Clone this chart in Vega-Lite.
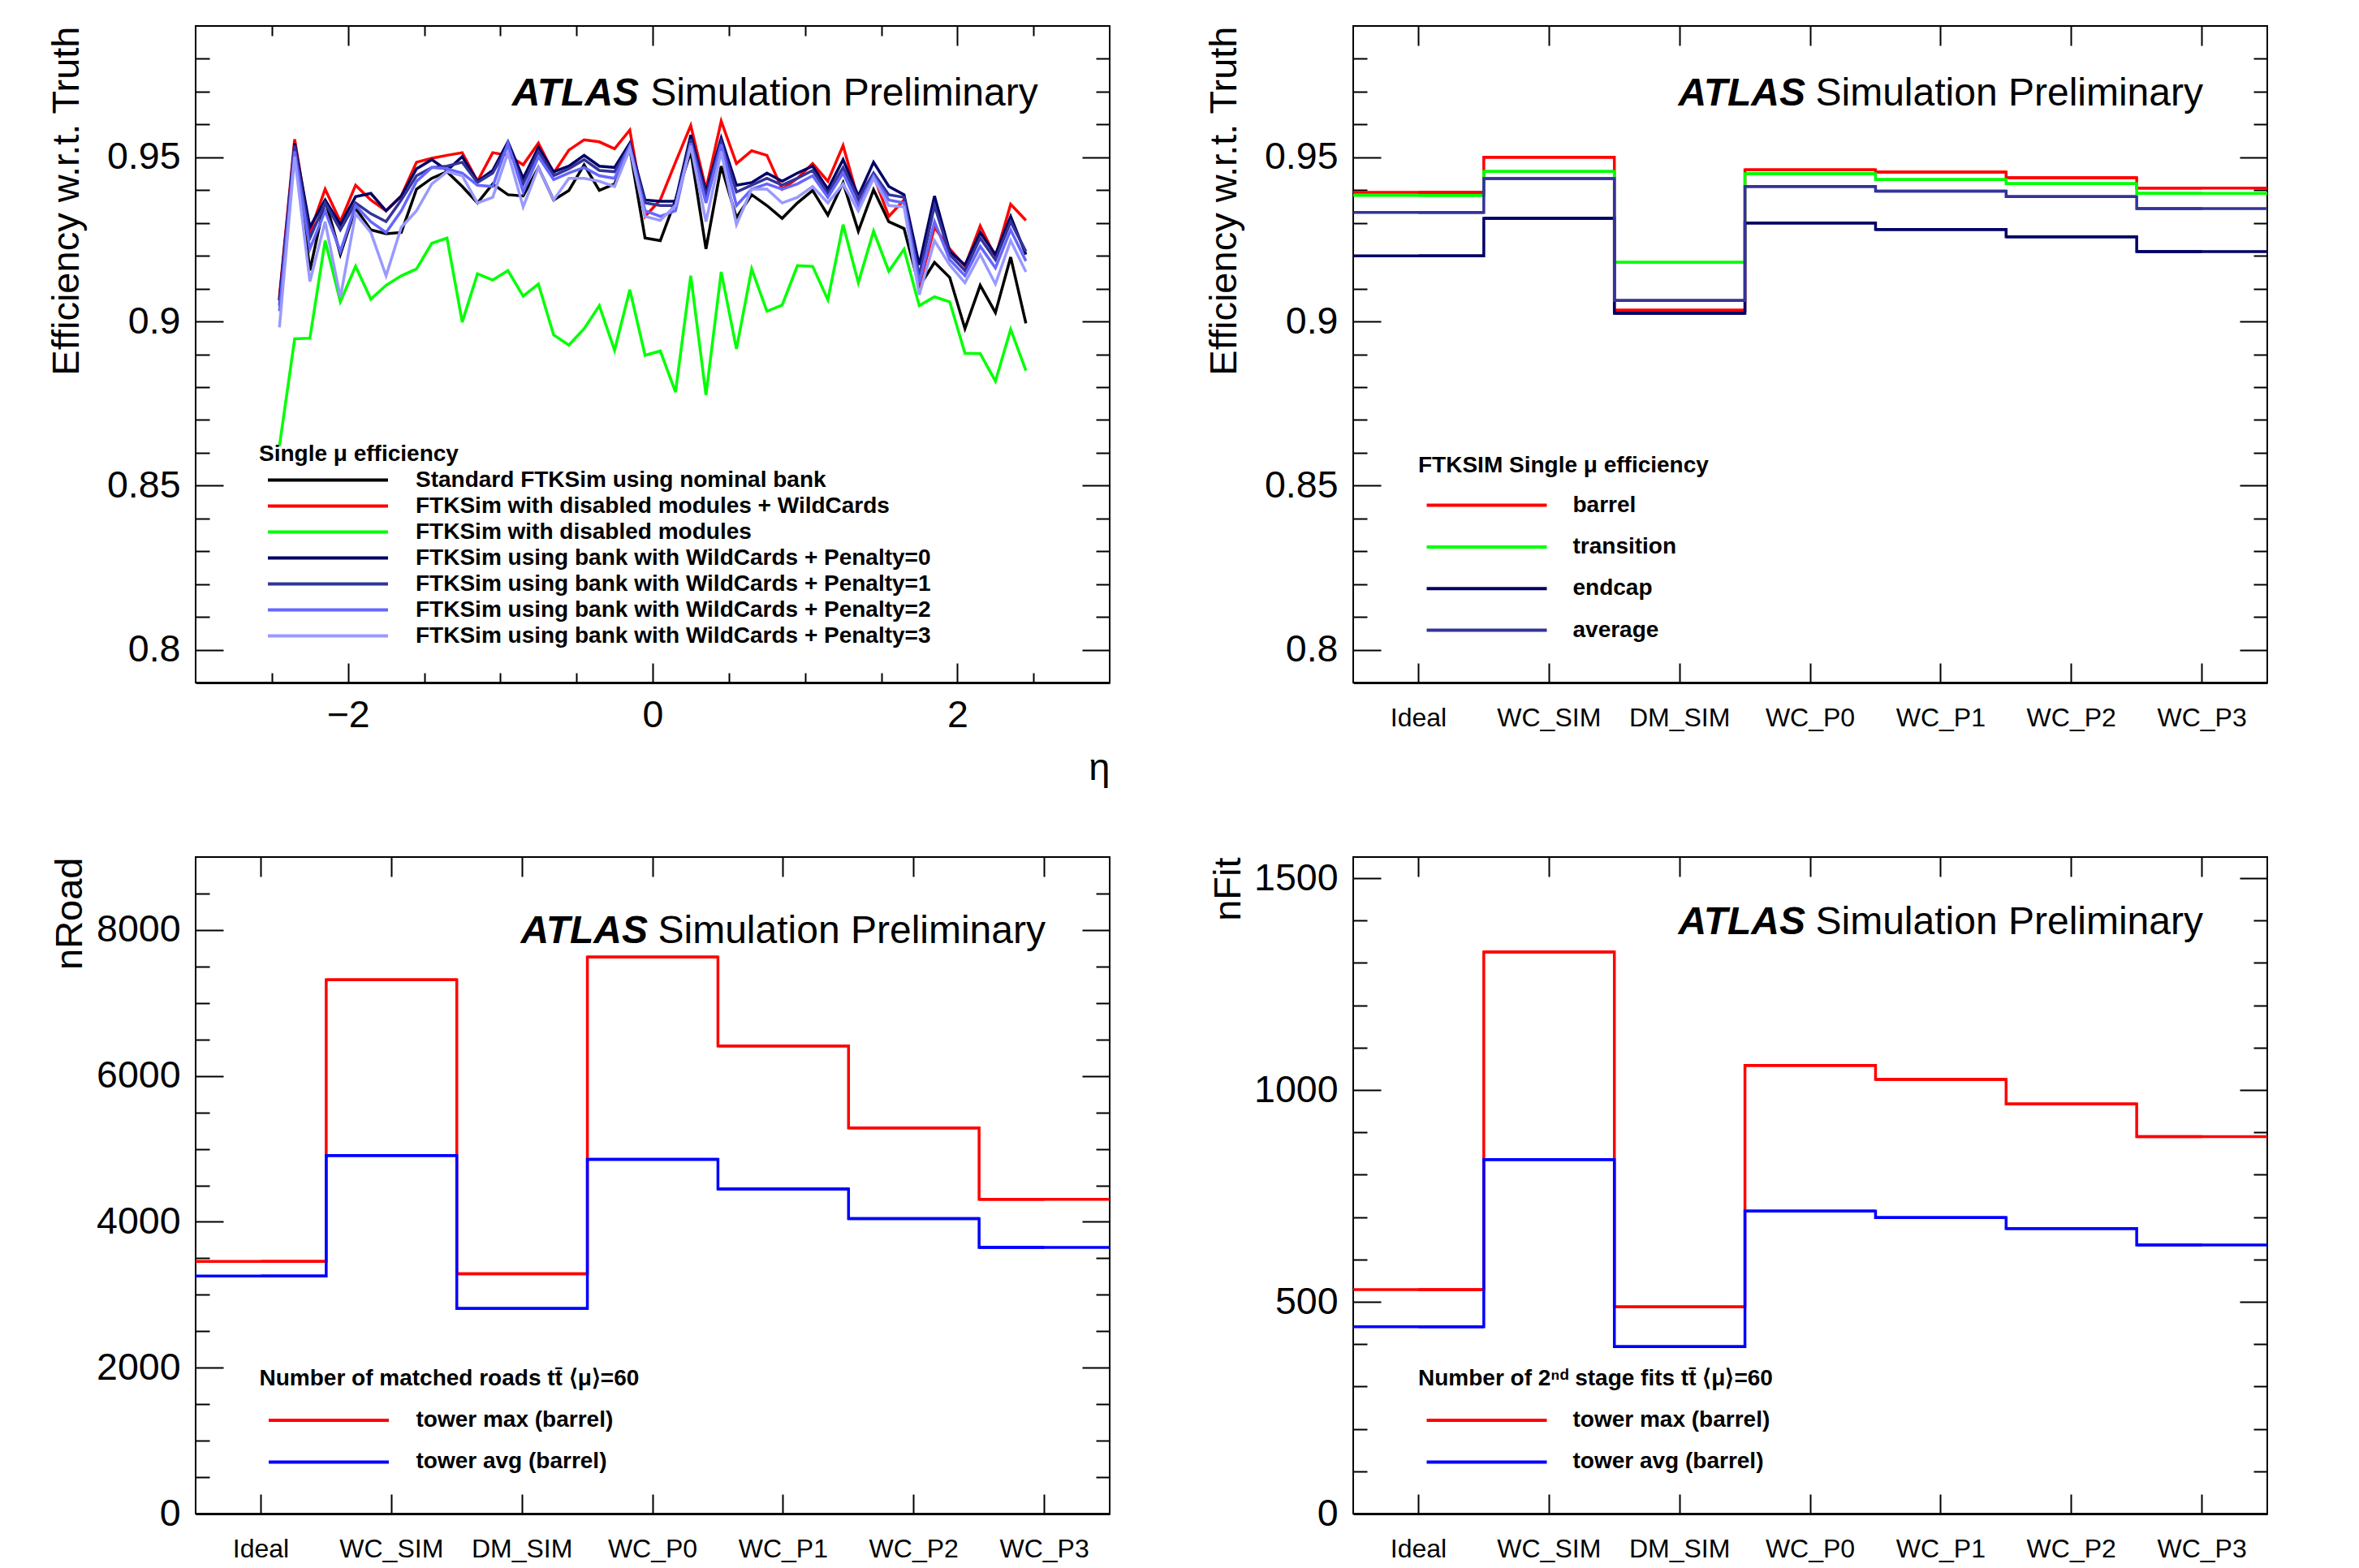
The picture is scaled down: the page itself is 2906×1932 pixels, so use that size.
{
"$schema":"https://vega.github.io/schema/vega-lite/v6.json",
"autosize":{"type":"none"},
"padding":{"left":241,"top":32,"right":2665,"bottom":1900},
"background":"white",
"columns":2,
"spacing":{"row":215,"column":300},
"bounds":"flush",
"resolve":{"scale":{"color":"independent"}},
"config":{
 "view":{"stroke":"#000000","strokeWidth":2},
 "axis":{"grid":false,"domain":false,"ticks":true,"tickColor":"#000000","tickWidth":2,"labelFont":"Liberation Sans","labelFontSize":46.5,"labelColor":"#000000","labelOverlap":false,"labelFlush":false,"labelBound":false,"titleFont":"Liberation Sans","titleFontSize":47,"titleFontWeight":"normal","titleColor":"#000000","domainColor":"#000000","domainWidth":3,"labelAngle":0},
 "legend":{"orient":"none","titleFont":"Liberation Sans","titleFontSize":28,"titleFontWeight":"bold","titleColor":"#000000","labelFont":"Liberation Sans","labelFontSize":28,"labelFontWeight":"bold","labelColor":"#000000","labelLimit":2000,"titleLimit":2000,"padding":0,"symbolType":"M-14.8,0H14.8","symbolSize":100,"symbolStrokeWidth":4,"symbolFillColor":"transparent"},
 "text":{"font":"Liberation Sans","fontSize":48,"baseline":"alphabetic","color":"#000000"}
},
"datasets":{
"eff":[
{"eta":-2.45,"eff":0.9064,"s":"Standard FTKSim using nominal bank"},{"eta":-2.35,"eff":0.9535,"s":"Standard FTKSim using nominal bank"},{"eta":-2.25,"eff":0.9155,"s":"Standard FTKSim using nominal bank"},{"eta":-2.15,"eff":0.937,"s":"Standard FTKSim using nominal bank"},{"eta":-2.05,"eff":0.9204,"s":"Standard FTKSim using nominal bank"},{"eta":-1.95,"eff":0.9345,"s":"Standard FTKSim using nominal bank"},{"eta":-1.85,"eff":0.9279,"s":"Standard FTKSim using nominal bank"},{"eta":-1.75,"eff":0.9267,"s":"Standard FTKSim using nominal bank"},{"eta":-1.65,"eff":0.9271,"s":"Standard FTKSim using nominal bank"},{"eta":-1.55,"eff":0.9403,"s":"Standard FTKSim using nominal bank"},
{"eta":-1.45,"eff":0.9436,"s":"Standard FTKSim using nominal bank"},{"eta":-1.35,"eff":0.9456,"s":"Standard FTKSim using nominal bank"},{"eta":-1.25,"eff":0.9411,"s":"Standard FTKSim using nominal bank"},{"eta":-1.15,"eff":0.9361,"s":"Standard FTKSim using nominal bank"},{"eta":-1.05,"eff":0.9419,"s":"Standard FTKSim using nominal bank"},{"eta":-0.95,"eff":0.9386,"s":"Standard FTKSim using nominal bank"},{"eta":-0.85,"eff":0.9382,"s":"Standard FTKSim using nominal bank"},{"eta":-0.75,"eff":0.9469,"s":"Standard FTKSim using nominal bank"},{"eta":-0.65,"eff":0.937,"s":"Standard FTKSim using nominal bank"},{"eta":-0.55,"eff":0.9399,"s":"Standard FTKSim using nominal bank"},
{"eta":-0.45,"eff":0.9477,"s":"Standard FTKSim using nominal bank"},{"eta":-0.35,"eff":0.9399,"s":"Standard FTKSim using nominal bank"},{"eta":-0.25,"eff":0.9419,"s":"Standard FTKSim using nominal bank"},{"eta":-0.15,"eff":0.9526,"s":"Standard FTKSim using nominal bank"},{"eta":-0.05,"eff":0.9254,"s":"Standard FTKSim using nominal bank"},{"eta":0.05,"eff":0.9246,"s":"Standard FTKSim using nominal bank"},{"eta":0.15,"eff":0.937,"s":"Standard FTKSim using nominal bank"},{"eta":0.25,"eff":0.9518,"s":"Standard FTKSim using nominal bank"},{"eta":0.35,"eff":0.9221,"s":"Standard FTKSim using nominal bank"},{"eta":0.45,"eff":0.9473,"s":"Standard FTKSim using nominal bank"},
{"eta":0.55,"eff":0.9316,"s":"Standard FTKSim using nominal bank"},{"eta":0.65,"eff":0.9386,"s":"Standard FTKSim using nominal bank"},{"eta":0.75,"eff":0.9353,"s":"Standard FTKSim using nominal bank"},{"eta":0.85,"eff":0.9314,"s":"Standard FTKSim using nominal bank"},{"eta":0.95,"eff":0.9361,"s":"Standard FTKSim using nominal bank"},{"eta":1.05,"eff":0.9399,"s":"Standard FTKSim using nominal bank"},{"eta":1.15,"eff":0.9324,"s":"Standard FTKSim using nominal bank"},{"eta":1.25,"eff":0.9423,"s":"Standard FTKSim using nominal bank"},{"eta":1.35,"eff":0.9275,"s":"Standard FTKSim using nominal bank"},{"eta":1.45,"eff":0.9401,"s":"Standard FTKSim using nominal bank"},
{"eta":1.55,"eff":0.9304,"s":"Standard FTKSim using nominal bank"},{"eta":1.65,"eff":0.9283,"s":"Standard FTKSim using nominal bank"},{"eta":1.75,"eff":0.9106,"s":"Standard FTKSim using nominal bank"},{"eta":1.85,"eff":0.918,"s":"Standard FTKSim using nominal bank"},{"eta":1.95,"eff":0.9134,"s":"Standard FTKSim using nominal bank"},{"eta":2.05,"eff":0.8978,"s":"Standard FTKSim using nominal bank"},{"eta":2.15,"eff":0.911,"s":"Standard FTKSim using nominal bank"},{"eta":2.25,"eff":0.9027,"s":"Standard FTKSim using nominal bank"},{"eta":2.35,"eff":0.9196,"s":"Standard FTKSim using nominal bank"},{"eta":2.45,"eff":0.8994,"s":"Standard FTKSim using nominal bank"},
{"eta":-2.45,"eff":0.9073,"s":"FTKSim with disabled modules + WildCards"},{"eta":-2.35,"eff":0.9555,"s":"FTKSim with disabled modules + WildCards"},{"eta":-2.25,"eff":0.9271,"s":"FTKSim with disabled modules + WildCards"},{"eta":-2.15,"eff":0.9403,"s":"FTKSim with disabled modules + WildCards"},{"eta":-2.05,"eff":0.9304,"s":"FTKSim with disabled modules + WildCards"},{"eta":-1.95,"eff":0.9415,"s":"FTKSim with disabled modules + WildCards"},{"eta":-1.85,"eff":0.937,"s":"FTKSim with disabled modules + WildCards"},{"eta":-1.75,"eff":0.9337,"s":"FTKSim with disabled modules + WildCards"},{"eta":-1.65,"eff":0.9382,"s":"FTKSim with disabled modules + WildCards"},{"eta":-1.55,"eff":0.9485,"s":"FTKSim with disabled modules + WildCards"},
{"eta":-1.45,"eff":0.9497,"s":"FTKSim with disabled modules + WildCards"},{"eta":-1.35,"eff":0.9506,"s":"FTKSim with disabled modules + WildCards"},{"eta":-1.25,"eff":0.9514,"s":"FTKSim with disabled modules + WildCards"},{"eta":-1.15,"eff":0.9427,"s":"FTKSim with disabled modules + WildCards"},{"eta":-1.05,"eff":0.9514,"s":"FTKSim with disabled modules + WildCards"},{"eta":-0.95,"eff":0.9506,"s":"FTKSim with disabled modules + WildCards"},{"eta":-0.85,"eff":0.9477,"s":"FTKSim with disabled modules + WildCards"},{"eta":-0.75,"eff":0.9543,"s":"FTKSim with disabled modules + WildCards"},{"eta":-0.65,"eff":0.9452,"s":"FTKSim with disabled modules + WildCards"},{"eta":-0.55,"eff":0.9522,"s":"FTKSim with disabled modules + WildCards"},
{"eta":-0.45,"eff":0.9553,"s":"FTKSim with disabled modules + WildCards"},{"eta":-0.35,"eff":0.9547,"s":"FTKSim with disabled modules + WildCards"},{"eta":-0.25,"eff":0.9526,"s":"FTKSim with disabled modules + WildCards"},{"eta":-0.15,"eff":0.9583,"s":"FTKSim with disabled modules + WildCards"},{"eta":-0.05,"eff":0.932,"s":"FTKSim with disabled modules + WildCards"},{"eta":0.05,"eff":0.937,"s":"FTKSim with disabled modules + WildCards"},{"eta":0.15,"eff":0.9485,"s":"FTKSim with disabled modules + WildCards"},{"eta":0.25,"eff":0.9597,"s":"FTKSim with disabled modules + WildCards"},{"eta":0.35,"eff":0.9403,"s":"FTKSim with disabled modules + WildCards"},{"eta":0.45,"eff":0.961,"s":"FTKSim with disabled modules + WildCards"},
{"eta":0.55,"eff":0.9481,"s":"FTKSim with disabled modules + WildCards"},{"eta":0.65,"eff":0.952,"s":"FTKSim with disabled modules + WildCards"},{"eta":0.75,"eff":0.9506,"s":"FTKSim with disabled modules + WildCards"},{"eta":0.85,"eff":0.9403,"s":"FTKSim with disabled modules + WildCards"},{"eta":0.95,"eff":0.9436,"s":"FTKSim with disabled modules + WildCards"},{"eta":1.05,"eff":0.9481,"s":"FTKSim with disabled modules + WildCards"},{"eta":1.15,"eff":0.9427,"s":"FTKSim with disabled modules + WildCards"},{"eta":1.25,"eff":0.9536,"s":"FTKSim with disabled modules + WildCards"},{"eta":1.35,"eff":0.937,"s":"FTKSim with disabled modules + WildCards"},{"eta":1.45,"eff":0.9444,"s":"FTKSim with disabled modules + WildCards"},
{"eta":1.55,"eff":0.932,"s":"FTKSim with disabled modules + WildCards"},{"eta":1.65,"eff":0.937,"s":"FTKSim with disabled modules + WildCards"},{"eta":1.75,"eff":0.9106,"s":"FTKSim with disabled modules + WildCards"},{"eta":1.85,"eff":0.9287,"s":"FTKSim with disabled modules + WildCards"},{"eta":1.95,"eff":0.9221,"s":"FTKSim with disabled modules + WildCards"},{"eta":2.05,"eff":0.9168,"s":"FTKSim with disabled modules + WildCards"},{"eta":2.15,"eff":0.9291,"s":"FTKSim with disabled modules + WildCards"},{"eta":2.25,"eff":0.9196,"s":"FTKSim with disabled modules + WildCards"},{"eta":2.35,"eff":0.9357,"s":"FTKSim with disabled modules + WildCards"},{"eta":2.45,"eff":0.9308,"s":"FTKSim with disabled modules + WildCards"},
{"eta":-2.45,"eff":0.862,"s":"FTKSim with disabled modules"},{"eta":-2.35,"eff":0.8947,"s":"FTKSim with disabled modules"},{"eta":-2.25,"eff":0.8949,"s":"FTKSim with disabled modules"},{"eta":-2.15,"eff":0.9246,"s":"FTKSim with disabled modules"},{"eta":-2.05,"eff":0.906,"s":"FTKSim with disabled modules"},{"eta":-1.95,"eff":0.9168,"s":"FTKSim with disabled modules"},{"eta":-1.85,"eff":0.9068,"s":"FTKSim with disabled modules"},{"eta":-1.75,"eff":0.911,"s":"FTKSim with disabled modules"},{"eta":-1.65,"eff":0.9139,"s":"FTKSim with disabled modules"},{"eta":-1.55,"eff":0.916,"s":"FTKSim with disabled modules"},
{"eta":-1.45,"eff":0.9238,"s":"FTKSim with disabled modules"},{"eta":-1.35,"eff":0.9254,"s":"FTKSim with disabled modules"},{"eta":-1.25,"eff":0.8998,"s":"FTKSim with disabled modules"},{"eta":-1.15,"eff":0.9145,"s":"FTKSim with disabled modules"},{"eta":-1.05,"eff":0.9126,"s":"FTKSim with disabled modules"},{"eta":-0.95,"eff":0.9155,"s":"FTKSim with disabled modules"},{"eta":-0.85,"eff":0.9077,"s":"FTKSim with disabled modules"},{"eta":-0.75,"eff":0.9114,"s":"FTKSim with disabled modules"},{"eta":-0.65,"eff":0.8959,"s":"FTKSim with disabled modules"},{"eta":-0.55,"eff":0.8928,"s":"FTKSim with disabled modules"},
{"eta":-0.45,"eff":0.8978,"s":"FTKSim with disabled modules"},{"eta":-0.35,"eff":0.9048,"s":"FTKSim with disabled modules"},{"eta":-0.25,"eff":0.8912,"s":"FTKSim with disabled modules"},{"eta":-0.15,"eff":0.9097,"s":"FTKSim with disabled modules"},{"eta":-0.05,"eff":0.8897,"s":"FTKSim with disabled modules"},{"eta":0.05,"eff":0.891,"s":"FTKSim with disabled modules"},{"eta":0.15,"eff":0.8785,"s":"FTKSim with disabled modules"},{"eta":0.25,"eff":0.9139,"s":"FTKSim with disabled modules"},{"eta":0.35,"eff":0.8776,"s":"FTKSim with disabled modules"},{"eta":0.45,"eff":0.9151,"s":"FTKSim with disabled modules"},
{"eta":0.55,"eff":0.8916,"s":"FTKSim with disabled modules"},{"eta":0.65,"eff":0.916,"s":"FTKSim with disabled modules"},{"eta":0.75,"eff":0.9031,"s":"FTKSim with disabled modules"},{"eta":0.85,"eff":0.905,"s":"FTKSim with disabled modules"},{"eta":0.95,"eff":0.917,"s":"FTKSim with disabled modules"},{"eta":1.05,"eff":0.9168,"s":"FTKSim with disabled modules"},{"eta":1.15,"eff":0.9066,"s":"FTKSim with disabled modules"},{"eta":1.25,"eff":0.9295,"s":"FTKSim with disabled modules"},{"eta":1.35,"eff":0.9118,"s":"FTKSim with disabled modules"},{"eta":1.45,"eff":0.9275,"s":"FTKSim with disabled modules"},
{"eta":1.55,"eff":0.9153,"s":"FTKSim with disabled modules"},{"eta":1.65,"eff":0.922,"s":"FTKSim with disabled modules"},{"eta":1.75,"eff":0.9048,"s":"FTKSim with disabled modules"},{"eta":1.85,"eff":0.9075,"s":"FTKSim with disabled modules"},{"eta":1.95,"eff":0.906,"s":"FTKSim with disabled modules"},{"eta":2.05,"eff":0.8903,"s":"FTKSim with disabled modules"},{"eta":2.15,"eff":0.8902,"s":"FTKSim with disabled modules"},{"eta":2.25,"eff":0.8818,"s":"FTKSim with disabled modules"},{"eta":2.35,"eff":0.8976,"s":"FTKSim with disabled modules"},{"eta":2.45,"eff":0.885,"s":"FTKSim with disabled modules"},
{"eta":-2.45,"eff":0.9064,"s":"FTKSim using bank with WildCards + Penalty=0"},{"eta":-2.35,"eff":0.9543,"s":"FTKSim using bank with WildCards + Penalty=0"},{"eta":-2.25,"eff":0.9287,"s":"FTKSim using bank with WildCards + Penalty=0"},{"eta":-2.15,"eff":0.937,"s":"FTKSim using bank with WildCards + Penalty=0"},{"eta":-2.05,"eff":0.9295,"s":"FTKSim using bank with WildCards + Penalty=0"},{"eta":-1.95,"eff":0.938,"s":"FTKSim using bank with WildCards + Penalty=0"},{"eta":-1.85,"eff":0.939,"s":"FTKSim using bank with WildCards + Penalty=0"},{"eta":-1.75,"eff":0.9337,"s":"FTKSim using bank with WildCards + Penalty=0"},{"eta":-1.65,"eff":0.9382,"s":"FTKSim using bank with WildCards + Penalty=0"},{"eta":-1.55,"eff":0.9465,"s":"FTKSim using bank with WildCards + Penalty=0"},
{"eta":-1.45,"eff":0.9493,"s":"FTKSim using bank with WildCards + Penalty=0"},{"eta":-1.35,"eff":0.946,"s":"FTKSim using bank with WildCards + Penalty=0"},{"eta":-1.25,"eff":0.9502,"s":"FTKSim using bank with WildCards + Penalty=0"},{"eta":-1.15,"eff":0.9427,"s":"FTKSim using bank with WildCards + Penalty=0"},{"eta":-1.05,"eff":0.946,"s":"FTKSim using bank with WildCards + Penalty=0"},{"eta":-0.95,"eff":0.9547,"s":"FTKSim using bank with WildCards + Penalty=0"},{"eta":-0.85,"eff":0.9436,"s":"FTKSim using bank with WildCards + Penalty=0"},{"eta":-0.75,"eff":0.953,"s":"FTKSim using bank with WildCards + Penalty=0"},{"eta":-0.65,"eff":0.9456,"s":"FTKSim using bank with WildCards + Penalty=0"},{"eta":-0.55,"eff":0.9473,"s":"FTKSim using bank with WildCards + Penalty=0"},
{"eta":-0.45,"eff":0.9506,"s":"FTKSim using bank with WildCards + Penalty=0"},{"eta":-0.35,"eff":0.9473,"s":"FTKSim using bank with WildCards + Penalty=0"},{"eta":-0.25,"eff":0.9469,"s":"FTKSim using bank with WildCards + Penalty=0"},{"eta":-0.15,"eff":0.9543,"s":"FTKSim using bank with WildCards + Penalty=0"},{"eta":-0.05,"eff":0.937,"s":"FTKSim using bank with WildCards + Penalty=0"},{"eta":0.05,"eff":0.9366,"s":"FTKSim using bank with WildCards + Penalty=0"},{"eta":0.15,"eff":0.9366,"s":"FTKSim using bank with WildCards + Penalty=0"},{"eta":0.25,"eff":0.9568,"s":"FTKSim using bank with WildCards + Penalty=0"},{"eta":0.35,"eff":0.9394,"s":"FTKSim using bank with WildCards + Penalty=0"},{"eta":0.45,"eff":0.9559,"s":"FTKSim using bank with WildCards + Penalty=0"},
{"eta":0.55,"eff":0.9415,"s":"FTKSim using bank with WildCards + Penalty=0"},{"eta":0.65,"eff":0.9423,"s":"FTKSim using bank with WildCards + Penalty=0"},{"eta":0.75,"eff":0.9452,"s":"FTKSim using bank with WildCards + Penalty=0"},{"eta":0.85,"eff":0.9427,"s":"FTKSim using bank with WildCards + Penalty=0"},{"eta":0.95,"eff":0.9452,"s":"FTKSim using bank with WildCards + Penalty=0"},{"eta":1.05,"eff":0.9473,"s":"FTKSim using bank with WildCards + Penalty=0"},{"eta":1.15,"eff":0.9403,"s":"FTKSim using bank with WildCards + Penalty=0"},{"eta":1.25,"eff":0.9493,"s":"FTKSim using bank with WildCards + Penalty=0"},{"eta":1.35,"eff":0.9382,"s":"FTKSim using bank with WildCards + Penalty=0"},{"eta":1.45,"eff":0.9485,"s":"FTKSim using bank with WildCards + Penalty=0"},
{"eta":1.55,"eff":0.9411,"s":"FTKSim using bank with WildCards + Penalty=0"},{"eta":1.65,"eff":0.9386,"s":"FTKSim using bank with WildCards + Penalty=0"},{"eta":1.75,"eff":0.9172,"s":"FTKSim using bank with WildCards + Penalty=0"},{"eta":1.85,"eff":0.9382,"s":"FTKSim using bank with WildCards + Penalty=0"},{"eta":1.95,"eff":0.9213,"s":"FTKSim using bank with WildCards + Penalty=0"},{"eta":2.05,"eff":0.9172,"s":"FTKSim using bank with WildCards + Penalty=0"},{"eta":2.15,"eff":0.9271,"s":"FTKSim using bank with WildCards + Penalty=0"},{"eta":2.25,"eff":0.9204,"s":"FTKSim using bank with WildCards + Penalty=0"},{"eta":2.35,"eff":0.932,"s":"FTKSim using bank with WildCards + Penalty=0"},{"eta":2.45,"eff":0.9204,"s":"FTKSim using bank with WildCards + Penalty=0"},
{"eta":-2.45,"eff":0.9048,"s":"FTKSim using bank with WildCards + Penalty=1"},{"eta":-2.35,"eff":0.9535,"s":"FTKSim using bank with WildCards + Penalty=1"},{"eta":-2.25,"eff":0.9254,"s":"FTKSim using bank with WildCards + Penalty=1"},{"eta":-2.15,"eff":0.9361,"s":"FTKSim using bank with WildCards + Penalty=1"},{"eta":-2.05,"eff":0.9279,"s":"FTKSim using bank with WildCards + Penalty=1"},{"eta":-1.95,"eff":0.9361,"s":"FTKSim using bank with WildCards + Penalty=1"},{"eta":-1.85,"eff":0.9328,"s":"FTKSim using bank with WildCards + Penalty=1"},{"eta":-1.75,"eff":0.9304,"s":"FTKSim using bank with WildCards + Penalty=1"},{"eta":-1.65,"eff":0.937,"s":"FTKSim using bank with WildCards + Penalty=1"},{"eta":-1.55,"eff":0.9444,"s":"FTKSim using bank with WildCards + Penalty=1"},
{"eta":-1.45,"eff":0.9469,"s":"FTKSim using bank with WildCards + Penalty=1"},{"eta":-1.35,"eff":0.9473,"s":"FTKSim using bank with WildCards + Penalty=1"},{"eta":-1.25,"eff":0.9485,"s":"FTKSim using bank with WildCards + Penalty=1"},{"eta":-1.15,"eff":0.9423,"s":"FTKSim using bank with WildCards + Penalty=1"},{"eta":-1.05,"eff":0.9452,"s":"FTKSim using bank with WildCards + Penalty=1"},{"eta":-0.95,"eff":0.9535,"s":"FTKSim using bank with WildCards + Penalty=1"},{"eta":-0.85,"eff":0.9419,"s":"FTKSim using bank with WildCards + Penalty=1"},{"eta":-0.75,"eff":0.9518,"s":"FTKSim using bank with WildCards + Penalty=1"},{"eta":-0.65,"eff":0.9444,"s":"FTKSim using bank with WildCards + Penalty=1"},{"eta":-0.55,"eff":0.9465,"s":"FTKSim using bank with WildCards + Penalty=1"},
{"eta":-0.45,"eff":0.9493,"s":"FTKSim using bank with WildCards + Penalty=1"},{"eta":-0.35,"eff":0.946,"s":"FTKSim using bank with WildCards + Penalty=1"},{"eta":-0.25,"eff":0.9456,"s":"FTKSim using bank with WildCards + Penalty=1"},{"eta":-0.15,"eff":0.9535,"s":"FTKSim using bank with WildCards + Penalty=1"},{"eta":-0.05,"eff":0.9361,"s":"FTKSim using bank with WildCards + Penalty=1"},{"eta":0.05,"eff":0.9353,"s":"FTKSim using bank with WildCards + Penalty=1"},{"eta":0.15,"eff":0.9353,"s":"FTKSim using bank with WildCards + Penalty=1"},{"eta":0.25,"eff":0.9555,"s":"FTKSim using bank with WildCards + Penalty=1"},{"eta":0.35,"eff":0.9382,"s":"FTKSim using bank with WildCards + Penalty=1"},{"eta":0.45,"eff":0.9547,"s":"FTKSim using bank with WildCards + Penalty=1"},
{"eta":0.55,"eff":0.9394,"s":"FTKSim using bank with WildCards + Penalty=1"},{"eta":0.65,"eff":0.9415,"s":"FTKSim using bank with WildCards + Penalty=1"},{"eta":0.75,"eff":0.9436,"s":"FTKSim using bank with WildCards + Penalty=1"},{"eta":0.85,"eff":0.9415,"s":"FTKSim using bank with WildCards + Penalty=1"},{"eta":0.95,"eff":0.9436,"s":"FTKSim using bank with WildCards + Penalty=1"},{"eta":1.05,"eff":0.946,"s":"FTKSim using bank with WildCards + Penalty=1"},{"eta":1.15,"eff":0.939,"s":"FTKSim using bank with WildCards + Penalty=1"},{"eta":1.25,"eff":0.9469,"s":"FTKSim using bank with WildCards + Penalty=1"},{"eta":1.35,"eff":0.9374,"s":"FTKSim using bank with WildCards + Penalty=1"},{"eta":1.45,"eff":0.9452,"s":"FTKSim using bank with WildCards + Penalty=1"},
{"eta":1.55,"eff":0.9386,"s":"FTKSim using bank with WildCards + Penalty=1"},{"eta":1.65,"eff":0.9378,"s":"FTKSim using bank with WildCards + Penalty=1"},{"eta":1.75,"eff":0.9139,"s":"FTKSim using bank with WildCards + Penalty=1"},{"eta":1.85,"eff":0.9353,"s":"FTKSim using bank with WildCards + Penalty=1"},{"eta":1.95,"eff":0.9204,"s":"FTKSim using bank with WildCards + Penalty=1"},{"eta":2.05,"eff":0.9155,"s":"FTKSim using bank with WildCards + Penalty=1"},{"eta":2.15,"eff":0.9254,"s":"FTKSim using bank with WildCards + Penalty=1"},{"eta":2.25,"eff":0.9188,"s":"FTKSim using bank with WildCards + Penalty=1"},{"eta":2.35,"eff":0.9304,"s":"FTKSim using bank with WildCards + Penalty=1"},{"eta":2.45,"eff":0.9213,"s":"FTKSim using bank with WildCards + Penalty=1"},
{"eta":-2.45,"eff":0.9031,"s":"FTKSim using bank with WildCards + Penalty=2"},{"eta":-2.35,"eff":0.9518,"s":"FTKSim using bank with WildCards + Penalty=2"},{"eta":-2.25,"eff":0.9221,"s":"FTKSim using bank with WildCards + Penalty=2"},{"eta":-2.15,"eff":0.9337,"s":"FTKSim using bank with WildCards + Penalty=2"},{"eta":-2.05,"eff":0.9213,"s":"FTKSim using bank with WildCards + Penalty=2"},{"eta":-1.95,"eff":0.9353,"s":"FTKSim using bank with WildCards + Penalty=2"},{"eta":-1.85,"eff":0.9304,"s":"FTKSim using bank with WildCards + Penalty=2"},{"eta":-1.75,"eff":0.9271,"s":"FTKSim using bank with WildCards + Penalty=2"},{"eta":-1.65,"eff":0.9337,"s":"FTKSim using bank with WildCards + Penalty=2"},{"eta":-1.55,"eff":0.9427,"s":"FTKSim using bank with WildCards + Penalty=2"},
{"eta":-1.45,"eff":0.9469,"s":"FTKSim using bank with WildCards + Penalty=2"},{"eta":-1.35,"eff":0.9465,"s":"FTKSim using bank with WildCards + Penalty=2"},{"eta":-1.25,"eff":0.9452,"s":"FTKSim using bank with WildCards + Penalty=2"},{"eta":-1.15,"eff":0.9415,"s":"FTKSim using bank with WildCards + Penalty=2"},{"eta":-1.05,"eff":0.9411,"s":"FTKSim using bank with WildCards + Penalty=2"},{"eta":-0.95,"eff":0.9543,"s":"FTKSim using bank with WildCards + Penalty=2"},{"eta":-0.85,"eff":0.9394,"s":"FTKSim using bank with WildCards + Penalty=2"},{"eta":-0.75,"eff":0.9502,"s":"FTKSim using bank with WildCards + Penalty=2"},{"eta":-0.65,"eff":0.9432,"s":"FTKSim using bank with WildCards + Penalty=2"},{"eta":-0.55,"eff":0.9452,"s":"FTKSim using bank with WildCards + Penalty=2"},
{"eta":-0.45,"eff":0.9469,"s":"FTKSim using bank with WildCards + Penalty=2"},{"eta":-0.35,"eff":0.9444,"s":"FTKSim using bank with WildCards + Penalty=2"},{"eta":-0.25,"eff":0.9436,"s":"FTKSim using bank with WildCards + Penalty=2"},{"eta":-0.15,"eff":0.9535,"s":"FTKSim using bank with WildCards + Penalty=2"},{"eta":-0.05,"eff":0.9337,"s":"FTKSim using bank with WildCards + Penalty=2"},{"eta":0.05,"eff":0.932,"s":"FTKSim using bank with WildCards + Penalty=2"},{"eta":0.15,"eff":0.9337,"s":"FTKSim using bank with WildCards + Penalty=2"},{"eta":0.25,"eff":0.9543,"s":"FTKSim using bank with WildCards + Penalty=2"},{"eta":0.35,"eff":0.9361,"s":"FTKSim using bank with WildCards + Penalty=2"},{"eta":0.45,"eff":0.9539,"s":"FTKSim using bank with WildCards + Penalty=2"},
{"eta":0.55,"eff":0.9353,"s":"FTKSim using bank with WildCards + Penalty=2"},{"eta":0.65,"eff":0.9403,"s":"FTKSim using bank with WildCards + Penalty=2"},{"eta":0.75,"eff":0.9419,"s":"FTKSim using bank with WildCards + Penalty=2"},{"eta":0.85,"eff":0.9403,"s":"FTKSim using bank with WildCards + Penalty=2"},{"eta":0.95,"eff":0.9419,"s":"FTKSim using bank with WildCards + Penalty=2"},{"eta":1.05,"eff":0.9444,"s":"FTKSim using bank with WildCards + Penalty=2"},{"eta":1.15,"eff":0.9378,"s":"FTKSim using bank with WildCards + Penalty=2"},{"eta":1.25,"eff":0.9452,"s":"FTKSim using bank with WildCards + Penalty=2"},{"eta":1.35,"eff":0.9353,"s":"FTKSim using bank with WildCards + Penalty=2"},{"eta":1.45,"eff":0.9444,"s":"FTKSim using bank with WildCards + Penalty=2"},
{"eta":1.55,"eff":0.937,"s":"FTKSim using bank with WildCards + Penalty=2"},{"eta":1.65,"eff":0.9361,"s":"FTKSim using bank with WildCards + Penalty=2"},{"eta":1.75,"eff":0.9118,"s":"FTKSim using bank with WildCards + Penalty=2"},{"eta":1.85,"eff":0.9304,"s":"FTKSim using bank with WildCards + Penalty=2"},{"eta":1.95,"eff":0.9188,"s":"FTKSim using bank with WildCards + Penalty=2"},{"eta":2.05,"eff":0.9139,"s":"FTKSim using bank with WildCards + Penalty=2"},{"eta":2.15,"eff":0.9229,"s":"FTKSim using bank with WildCards + Penalty=2"},{"eta":2.25,"eff":0.9163,"s":"FTKSim using bank with WildCards + Penalty=2"},{"eta":2.35,"eff":0.9279,"s":"FTKSim using bank with WildCards + Penalty=2"},{"eta":2.45,"eff":0.9184,"s":"FTKSim using bank with WildCards + Penalty=2"},
{"eta":-2.45,"eff":0.8982,"s":"FTKSim using bank with WildCards + Penalty=3"},{"eta":-2.35,"eff":0.9502,"s":"FTKSim using bank with WildCards + Penalty=3"},{"eta":-2.25,"eff":0.9122,"s":"FTKSim using bank with WildCards + Penalty=3"},{"eta":-2.15,"eff":0.9304,"s":"FTKSim using bank with WildCards + Penalty=3"},{"eta":-2.05,"eff":0.9073,"s":"FTKSim using bank with WildCards + Penalty=3"},{"eta":-1.95,"eff":0.9328,"s":"FTKSim using bank with WildCards + Penalty=3"},{"eta":-1.85,"eff":0.9271,"s":"FTKSim using bank with WildCards + Penalty=3"},{"eta":-1.75,"eff":0.9139,"s":"FTKSim using bank with WildCards + Penalty=3"},{"eta":-1.65,"eff":0.9287,"s":"FTKSim using bank with WildCards + Penalty=3"},{"eta":-1.55,"eff":0.9337,"s":"FTKSim using bank with WildCards + Penalty=3"},
{"eta":-1.45,"eff":0.9419,"s":"FTKSim using bank with WildCards + Penalty=3"},{"eta":-1.35,"eff":0.9456,"s":"FTKSim using bank with WildCards + Penalty=3"},{"eta":-1.25,"eff":0.9444,"s":"FTKSim using bank with WildCards + Penalty=3"},{"eta":-1.15,"eff":0.9361,"s":"FTKSim using bank with WildCards + Penalty=3"},{"eta":-1.05,"eff":0.9378,"s":"FTKSim using bank with WildCards + Penalty=3"},{"eta":-0.95,"eff":0.9514,"s":"FTKSim using bank with WildCards + Penalty=3"},{"eta":-0.85,"eff":0.9349,"s":"FTKSim using bank with WildCards + Penalty=3"},{"eta":-0.75,"eff":0.9469,"s":"FTKSim using bank with WildCards + Penalty=3"},{"eta":-0.65,"eff":0.937,"s":"FTKSim using bank with WildCards + Penalty=3"},{"eta":-0.55,"eff":0.9436,"s":"FTKSim using bank with WildCards + Penalty=3"},
{"eta":-0.45,"eff":0.9436,"s":"FTKSim using bank with WildCards + Penalty=3"},{"eta":-0.35,"eff":0.9427,"s":"FTKSim using bank with WildCards + Penalty=3"},{"eta":-0.25,"eff":0.9411,"s":"FTKSim using bank with WildCards + Penalty=3"},{"eta":-0.15,"eff":0.9526,"s":"FTKSim using bank with WildCards + Penalty=3"},{"eta":-0.05,"eff":0.932,"s":"FTKSim using bank with WildCards + Penalty=3"},{"eta":0.05,"eff":0.9308,"s":"FTKSim using bank with WildCards + Penalty=3"},{"eta":0.15,"eff":0.9353,"s":"FTKSim using bank with WildCards + Penalty=3"},{"eta":0.25,"eff":0.9535,"s":"FTKSim using bank with WildCards + Penalty=3"},{"eta":0.35,"eff":0.9304,"s":"FTKSim using bank with WildCards + Penalty=3"},{"eta":0.45,"eff":0.9518,"s":"FTKSim using bank with WildCards + Penalty=3"},
{"eta":0.55,"eff":0.9295,"s":"FTKSim using bank with WildCards + Penalty=3"},{"eta":0.65,"eff":0.9403,"s":"FTKSim using bank with WildCards + Penalty=3"},{"eta":0.75,"eff":0.9403,"s":"FTKSim using bank with WildCards + Penalty=3"},{"eta":0.85,"eff":0.9361,"s":"FTKSim using bank with WildCards + Penalty=3"},{"eta":0.95,"eff":0.9378,"s":"FTKSim using bank with WildCards + Penalty=3"},{"eta":1.05,"eff":0.9411,"s":"FTKSim using bank with WildCards + Penalty=3"},{"eta":1.15,"eff":0.9361,"s":"FTKSim using bank with WildCards + Penalty=3"},{"eta":1.25,"eff":0.9419,"s":"FTKSim using bank with WildCards + Penalty=3"},{"eta":1.35,"eff":0.9337,"s":"FTKSim using bank with WildCards + Penalty=3"},{"eta":1.45,"eff":0.9436,"s":"FTKSim using bank with WildCards + Penalty=3"},
{"eta":1.55,"eff":0.9353,"s":"FTKSim using bank with WildCards + Penalty=3"},{"eta":1.65,"eff":0.9349,"s":"FTKSim using bank with WildCards + Penalty=3"},{"eta":1.75,"eff":0.9081,"s":"FTKSim using bank with WildCards + Penalty=3"},{"eta":1.85,"eff":0.9246,"s":"FTKSim using bank with WildCards + Penalty=3"},{"eta":1.95,"eff":0.9172,"s":"FTKSim using bank with WildCards + Penalty=3"},{"eta":2.05,"eff":0.9118,"s":"FTKSim using bank with WildCards + Penalty=3"},{"eta":2.15,"eff":0.9204,"s":"FTKSim using bank with WildCards + Penalty=3"},{"eta":2.25,"eff":0.9114,"s":"FTKSim using bank with WildCards + Penalty=3"},{"eta":2.35,"eff":0.9246,"s":"FTKSim using bank with WildCards + Penalty=3"},{"eta":2.45,"eff":0.9151,"s":"FTKSim using bank with WildCards + Penalty=3"}
],
"tr":[
{"cfg":"Ideal","r":"barrel","eff":0.9393},{"cfg":"WC_SIM","r":"barrel","eff":0.950},{"cfg":"DM_SIM","r":"barrel","eff":0.9034},{"cfg":"WC_P0","r":"barrel","eff":0.9462},{"cfg":"WC_P1","r":"barrel","eff":0.9455},{"cfg":"WC_P2","r":"barrel","eff":0.9438},{"cfg":"WC_P3","r":"barrel","eff":0.9406},
{"cfg":"Ideal","r":"transition","eff":0.9384},{"cfg":"WC_SIM","r":"transition","eff":0.9457},{"cfg":"DM_SIM","r":"transition","eff":0.918},{"cfg":"WC_P0","r":"transition","eff":0.945},{"cfg":"WC_P1","r":"transition","eff":0.9432},{"cfg":"WC_P2","r":"transition","eff":0.942},{"cfg":"WC_P3","r":"transition","eff":0.939},
{"cfg":"Ideal","r":"endcap","eff":0.920},{"cfg":"WC_SIM","r":"endcap","eff":0.9314},{"cfg":"DM_SIM","r":"endcap","eff":0.9025},{"cfg":"WC_P0","r":"endcap","eff":0.930},{"cfg":"WC_P1","r":"endcap","eff":0.928},{"cfg":"WC_P2","r":"endcap","eff":0.9258},{"cfg":"WC_P3","r":"endcap","eff":0.9213},
{"cfg":"Ideal","r":"average","eff":0.9332},{"cfg":"WC_SIM","r":"average","eff":0.9435},{"cfg":"DM_SIM","r":"average","eff":0.9064},{"cfg":"WC_P0","r":"average","eff":0.9411},{"cfg":"WC_P1","r":"average","eff":0.9397},{"cfg":"WC_P2","r":"average","eff":0.938},{"cfg":"WC_P3","r":"average","eff":0.9344}
],
"roads":[
{"cfg":"Ideal","t":"tower max (barrel)","n":3458},{"cfg":"WC_SIM","t":"tower max (barrel)","n":7318},{"cfg":"DM_SIM","t":"tower max (barrel)","n":3287},{"cfg":"WC_P0","t":"tower max (barrel)","n":7630},{"cfg":"WC_P1","t":"tower max (barrel)","n":6411},{"cfg":"WC_P2","t":"tower max (barrel)","n":5287},{"cfg":"WC_P3","t":"tower max (barrel)","n":4309},
{"cfg":"Ideal","t":"tower avg (barrel)","n":3257},{"cfg":"WC_SIM","t":"tower avg (barrel)","n":4908},{"cfg":"DM_SIM","t":"tower avg (barrel)","n":2811},{"cfg":"WC_P0","t":"tower avg (barrel)","n":4856},{"cfg":"WC_P1","t":"tower avg (barrel)","n":4451},{"cfg":"WC_P2","t":"tower avg (barrel)","n":4043},{"cfg":"WC_P3","t":"tower avg (barrel)","n":3649}
],
"fits":[
{"cfg":"Ideal","t":"tower max (barrel)","n":529},{"cfg":"WC_SIM","t":"tower max (barrel)","n":1326},{"cfg":"DM_SIM","t":"tower max (barrel)","n":488},{"cfg":"WC_P0","t":"tower max (barrel)","n":1058},{"cfg":"WC_P1","t":"tower max (barrel)","n":1025},{"cfg":"WC_P2","t":"tower max (barrel)","n":967},{"cfg":"WC_P3","t":"tower max (barrel)","n":890},
{"cfg":"Ideal","t":"tower avg (barrel)","n":441},{"cfg":"WC_SIM","t":"tower avg (barrel)","n":836},{"cfg":"DM_SIM","t":"tower avg (barrel)","n":394},{"cfg":"WC_P0","t":"tower avg (barrel)","n":714},{"cfg":"WC_P1","t":"tower avg (barrel)","n":699},{"cfg":"WC_P2","t":"tower avg (barrel)","n":673},{"cfg":"WC_P3","t":"tower avg (barrel)","n":634}
]
},
"concat":[
{
 "width":1126,"height":809,
 "resolve":{"axis":{"x":"independent","y":"independent"}},
 "layer":[
  {
   "data":{"name":"eff"},
   "mark":{"type":"line","strokeWidth":3.5},
   "encoding":{
    "x":{"field":"eta","type":"quantitative","scale":{"domain":[-3,3],"nice":false,"zero":false},
     "axis":{"orient":"bottom","values":[-2.5,-2,-1.5,-1,-0.5,0,0.5,1,1.5,2,2.5],"tickSize":{"condition":{"test":"indexof([-2,0,2], datum.value) >= 0","value":-24},"value":-12},"labelExpr":"indexof([-2,0,2], datum.value) >= 0 ? format(datum.value, 'd') : ''","labelPadding":64,"labelBaseline":"middle","domain":true,"title":"η","titleX":1126,"titleY":119,"titleAlign":"right","titleBaseline":"alphabetic","titleAngle":0}},
    "y":{"field":"eff","type":"quantitative","scale":{"domain":[0.79,0.99],"nice":false,"zero":false},
     "axis":{"orient":"left","values":[0.8,0.81,0.82,0.83,0.84,0.85,0.86,0.87,0.88,0.89,0.9,0.91,0.92,0.93,0.94,0.95,0.96,0.97,0.98],"tickSize":{"condition":{"test":"indexof([0.8,0.85,0.9,0.95], datum.value) >= 0","value":-34},"value":-17},"labelExpr":"indexof([0.8,0.85,0.9,0.95], datum.value) >= 0 ? format(datum.value, '.2~f') : ''","labelPadding":53,"labelBaseline":"middle","title":"Efficiency w.r.t.  Truth","titleAngle":270,"titleX":-145,"titleY":0,"titleAlign":"right","titleBaseline":"alphabetic"}},
    "color":{"field":"s","type":"nominal",
     "scale":{"domain":["Standard FTKSim using nominal bank","FTKSim with disabled modules + WildCards","FTKSim with disabled modules","FTKSim using bank with WildCards + Penalty=0","FTKSim using bank with WildCards + Penalty=1","FTKSim using bank with WildCards + Penalty=2","FTKSim using bank with WildCards + Penalty=3"],"range":["#000000","#ff0000","#00ff00","#000066","#333399","#6666ff","#9999ff"]},
     "legend":{"orient":"none","legendX":78,"legendY":514,"title":"Single μ efficiency","titlePadding":3.6,"rowPadding":4,"symbolOffset":71,"labelOffset":94}}
   }
  },
  {
   "data":{"values":[{"t":"ATLAS"}]},
   "mark":{"type":"text","fontWeight":"bold","fontStyle":"italic","align":"right","baseline":"alphabetic","fontSize":48},
   "encoding":{
    "text":{"field":"t"},
    "x":{"datum":-0.09,"type":"quantitative","scale":{"domain":[-3,3],"nice":false,"zero":false},
     "axis":{"orient":"top","values":[-2.5,-2,-1.5,-1,-0.5,0,0.5,1,1.5,2,2.5],"tickSize":{"condition":{"test":"indexof([-2,0,2], datum.value) >= 0","value":-24},"value":-12},"labels":false,"domain":false,"title":null}},
    "y":{"datum":0.9658,"type":"quantitative","scale":{"domain":[0.79,0.99],"nice":false,"zero":false},
     "axis":{"orient":"right","values":[0.8,0.81,0.82,0.83,0.84,0.85,0.86,0.87,0.88,0.89,0.9,0.91,0.92,0.93,0.94,0.95,0.96,0.97,0.98],"tickSize":{"condition":{"test":"indexof([0.8,0.85,0.9,0.95], datum.value) >= 0","value":-34},"value":-17},"labels":false,"domain":false,"title":null}}
   }
  },
  {
   "data":{"values":[{"t":"Simulation Preliminary"}]},
   "mark":{"type":"text","align":"left","baseline":"alphabetic","fontSize":48},
   "encoding":{
    "text":{"field":"t"},
    "x":{"datum":-0.015,"type":"quantitative","axis":null},
    "y":{"datum":0.9658,"type":"quantitative","axis":null}
   }
  }
 ]
},
{
 "width":1126,"height":809,
 "resolve":{"axis":{"x":"independent","y":"independent"}},
 "layer":[
  {
   "data":{"name":"tr"},
   "mark":{"type":"rect","filled":false,"strokeWidth":3.5},
   "encoding":{
    "x":{"field":"cfg","type":"nominal","scale":{"type":"band","domain":["Ideal","WC_SIM","DM_SIM","WC_P0","WC_P1","WC_P2","WC_P3"],"paddingInner":0,"paddingOuter":0},
     "axis":{"orient":"bottom","bandPosition":0.5,"tickSize":-24,"labelPadding":67,"labelFontSize":32,"labelBaseline":"middle","domain":true,"title":null}},
    "y":{"field":"eff","type":"quantitative","scale":{"domain":[0.79,0.99],"nice":false,"zero":false},
     "axis":{"orient":"left","values":[0.8,0.81,0.82,0.83,0.84,0.85,0.86,0.87,0.88,0.89,0.9,0.91,0.92,0.93,0.94,0.95,0.96,0.97,0.98],"tickSize":{"condition":{"test":"indexof([0.8,0.85,0.9,0.95], datum.value) >= 0","value":-34},"value":-17},"labelExpr":"indexof([0.8,0.85,0.9,0.95], datum.value) >= 0 ? format(datum.value, '.2~f') : ''","labelPadding":53,"labelBaseline":"middle","title":"Efficiency w.r.t.  Truth","titleAngle":270,"titleX":-145,"titleY":0,"titleAlign":"right","titleBaseline":"alphabetic"}},
    "y2":{"field":"eff"},
    "color":{"field":"r","type":"nominal","scale":{"domain":["barrel","transition","endcap","average"],"range":["#ff0000","#00ff00","#000066","#333399"]},
     "legend":{"orient":"none","legendX":80,"legendY":528,"title":"FTKSIM Single μ efficiency","titlePadding":20.6,"rowPadding":23.3,"symbolOffset":70.5,"labelOffset":92}}
   }
  },
  {
   "data":{"name":"tr"},
   "mark":{"type":"line","interpolate":"step","strokeWidth":3.5},
   "encoding":{
    "x":{"field":"cfg","type":"nominal","scale":{"type":"band","domain":["Ideal","WC_SIM","DM_SIM","WC_P0","WC_P1","WC_P2","WC_P3"],"paddingInner":0,"paddingOuter":0},"axis":null},
    "y":{"field":"eff","type":"quantitative","axis":null},
    "color":{"field":"r","type":"nominal",
     "legend":{"orient":"none","legendX":80,"legendY":528,"title":"FTKSIM Single μ efficiency","titlePadding":20.6,"rowPadding":23.3,"symbolOffset":70.5,"labelOffset":92}}
   }
  },
  {
   "data":{"values":[{"t":"ATLAS"}]},
   "mark":{"type":"text","fontWeight":"bold","fontStyle":"italic","align":"right","baseline":"alphabetic","fontSize":48,"dx":-6},
   "encoding":{
    "text":{"field":"t"},
    "x":{"datum":"WC_P0","type":"nominal","axis":{"orient":"top","bandPosition":0.5,"tickSize":-24,"labels":false,"domain":false,"title":null}},
    "y":{"datum":0.9658,"type":"quantitative",
     "axis":{"orient":"right","values":[0.8,0.81,0.82,0.83,0.84,0.85,0.86,0.87,0.88,0.89,0.9,0.91,0.92,0.93,0.94,0.95,0.96,0.97,0.98],"tickSize":{"condition":{"test":"indexof([0.8,0.85,0.9,0.95], datum.value) >= 0","value":-34},"value":-17},"labels":false,"domain":false,"title":null}}
   }
  },
  {
   "data":{"values":[{"t":"Simulation Preliminary"}]},
   "mark":{"type":"text","align":"left","baseline":"alphabetic","fontSize":48,"dx":6.5},
   "encoding":{
    "text":{"field":"t"},
    "x":{"datum":"WC_P0","type":"nominal","axis":null},
    "y":{"datum":0.9658,"type":"quantitative","axis":null}
   }
  }
 ]
},
{
 "width":1126,"height":809,
 "resolve":{"axis":{"x":"independent","y":"independent"}},
 "layer":[
  {
   "data":{"name":"roads"},
   "mark":{"type":"rect","filled":false,"strokeWidth":3.5},
   "encoding":{
    "x":{"field":"cfg","type":"nominal","scale":{"type":"band","domain":["Ideal","WC_SIM","DM_SIM","WC_P0","WC_P1","WC_P2","WC_P3"],"paddingInner":0,"paddingOuter":0},
     "axis":{"orient":"bottom","bandPosition":0.5,"tickSize":-24,"labelPadding":67,"labelFontSize":32,"labelBaseline":"middle","domain":true,"title":null}},
    "y":{"field":"n","type":"quantitative","scale":{"domain":[0,9000],"nice":false,"zero":false},
     "axis":{"orient":"left","values":[0,500,1000,1500,2000,2500,3000,3500,4000,4500,5000,5500,6000,6500,7000,7500,8000,8500],"tickSize":{"condition":{"test":"datum.value % 2000 === 0","value":-34},"value":-17},"labelExpr":"datum.value % 2000 === 0 ? format(datum.value, 'd') : ''","labelPadding":53,"labelBaseline":"middle","title":"nRoad","titleAngle":270,"titleX":-141,"titleY":0,"titleAlign":"right","titleBaseline":"alphabetic"}},
    "y2":{"field":"n"},
    "color":{"field":"t","type":"nominal","scale":{"domain":["tower max (barrel)","tower avg (barrel)"],"range":["#ff0000","#0000ff"]},
     "legend":{"orient":"none","legendX":78.5,"legendY":629,"title":"Number of matched roads  tt̄  ⟨μ⟩=60","titlePadding":23,"rowPadding":23.4,"symbolOffset":71.5,"labelOffset":93.5}}
   }
  },
  {
   "data":{"name":"roads"},
   "mark":{"type":"line","interpolate":"step","strokeWidth":3.5},
   "encoding":{
    "x":{"field":"cfg","type":"nominal","scale":{"type":"band","domain":["Ideal","WC_SIM","DM_SIM","WC_P0","WC_P1","WC_P2","WC_P3"],"paddingInner":0,"paddingOuter":0},"axis":null},
    "y":{"field":"n","type":"quantitative","axis":null},
    "color":{"field":"t","type":"nominal",
     "legend":{"orient":"none","legendX":78.5,"legendY":629,"title":"Number of matched roads  tt̄  ⟨μ⟩=60","titlePadding":23,"rowPadding":23.4,"symbolOffset":71.5,"labelOffset":93.5}}
   }
  },
  {
   "data":{"values":[{"t":"ATLAS"}]},
   "mark":{"type":"text","fontWeight":"bold","fontStyle":"italic","align":"right","baseline":"alphabetic","fontSize":48,"dx":-6},
   "encoding":{
    "text":{"field":"t"},
    "x":{"datum":"WC_P0","type":"nominal","axis":{"orient":"top","bandPosition":0.5,"tickSize":-24,"labels":false,"domain":false,"title":null}},
    "y":{"datum":7826,"type":"quantitative",
     "axis":{"orient":"right","values":[0,500,1000,1500,2000,2500,3000,3500,4000,4500,5000,5500,6000,6500,7000,7500,8000,8500],"tickSize":{"condition":{"test":"datum.value % 2000 === 0","value":-34},"value":-17},"labels":false,"domain":false,"title":null}}
   }
  },
  {
   "data":{"values":[{"t":"Simulation Preliminary"}]},
   "mark":{"type":"text","align":"left","baseline":"alphabetic","fontSize":48,"dx":6.5},
   "encoding":{
    "text":{"field":"t"},
    "x":{"datum":"WC_P0","type":"nominal","axis":null},
    "y":{"datum":7826,"type":"quantitative","axis":null}
   }
  }
 ]
},
{
 "width":1126,"height":809,
 "resolve":{"axis":{"x":"independent","y":"independent"}},
 "layer":[
  {
   "data":{"name":"fits"},
   "mark":{"type":"rect","filled":false,"strokeWidth":3.5},
   "encoding":{
    "x":{"field":"cfg","type":"nominal","scale":{"type":"band","domain":["Ideal","WC_SIM","DM_SIM","WC_P0","WC_P1","WC_P2","WC_P3"],"paddingInner":0,"paddingOuter":0},
     "axis":{"orient":"bottom","bandPosition":0.5,"tickSize":-24,"labelPadding":67,"labelFontSize":32,"labelBaseline":"middle","domain":true,"title":null}},
    "y":{"field":"n","type":"quantitative","scale":{"domain":[0,1550],"nice":false,"zero":false},
     "axis":{"orient":"left","values":[0,100,200,300,400,500,600,700,800,900,1000,1100,1200,1300,1400,1500],"tickSize":{"condition":{"test":"datum.value % 500 === 0","value":-34},"value":-17},"labelExpr":"datum.value % 500 === 0 ? format(datum.value, 'd') : ''","labelPadding":53,"labelBaseline":"middle","title":"nFit","titleAngle":270,"titleX":-140,"titleY":0,"titleAlign":"right","titleBaseline":"alphabetic"}},
    "y2":{"field":"n"},
    "color":{"field":"t","type":"nominal","scale":{"domain":["tower max (barrel)","tower avg (barrel)"],"range":["#ff0000","#0000ff"]},
     "legend":{"orient":"none","legendX":80,"legendY":629,"title":"Number of 2ⁿᵈ stage fits tt̄ ⟨μ⟩=60","titlePadding":23,"rowPadding":23.4,"symbolOffset":70.5,"labelOffset":92}}
   }
  },
  {
   "data":{"name":"fits"},
   "mark":{"type":"line","interpolate":"step","strokeWidth":3.5},
   "encoding":{
    "x":{"field":"cfg","type":"nominal","scale":{"type":"band","domain":["Ideal","WC_SIM","DM_SIM","WC_P0","WC_P1","WC_P2","WC_P3"],"paddingInner":0,"paddingOuter":0},"axis":null},
    "y":{"field":"n","type":"quantitative","axis":null},
    "color":{"field":"t","type":"nominal",
     "legend":{"orient":"none","legendX":80,"legendY":629,"title":"Number of 2ⁿᵈ stage fits tt̄ ⟨μ⟩=60","titlePadding":23,"rowPadding":23.4,"symbolOffset":70.5,"labelOffset":92}}
   }
  },
  {
   "data":{"values":[{"t":"ATLAS"}]},
   "mark":{"type":"text","fontWeight":"bold","fontStyle":"italic","align":"right","baseline":"alphabetic","fontSize":48,"dx":-6},
   "encoding":{
    "text":{"field":"t"},
    "x":{"datum":"WC_P0","type":"nominal","axis":{"orient":"top","bandPosition":0.5,"tickSize":-24,"labels":false,"domain":false,"title":null}},
    "y":{"datum":1368,"type":"quantitative",
     "axis":{"orient":"right","values":[0,100,200,300,400,500,600,700,800,900,1000,1100,1200,1300,1400,1500],"tickSize":{"condition":{"test":"datum.value % 500 === 0","value":-34},"value":-17},"labels":false,"domain":false,"title":null}}
   }
  },
  {
   "data":{"values":[{"t":"Simulation Preliminary"}]},
   "mark":{"type":"text","align":"left","baseline":"alphabetic","fontSize":48,"dx":6.5},
   "encoding":{
    "text":{"field":"t"},
    "x":{"datum":"WC_P0","type":"nominal","axis":null},
    "y":{"datum":1368,"type":"quantitative","axis":null}
   }
  }
 ]
}
]
}
